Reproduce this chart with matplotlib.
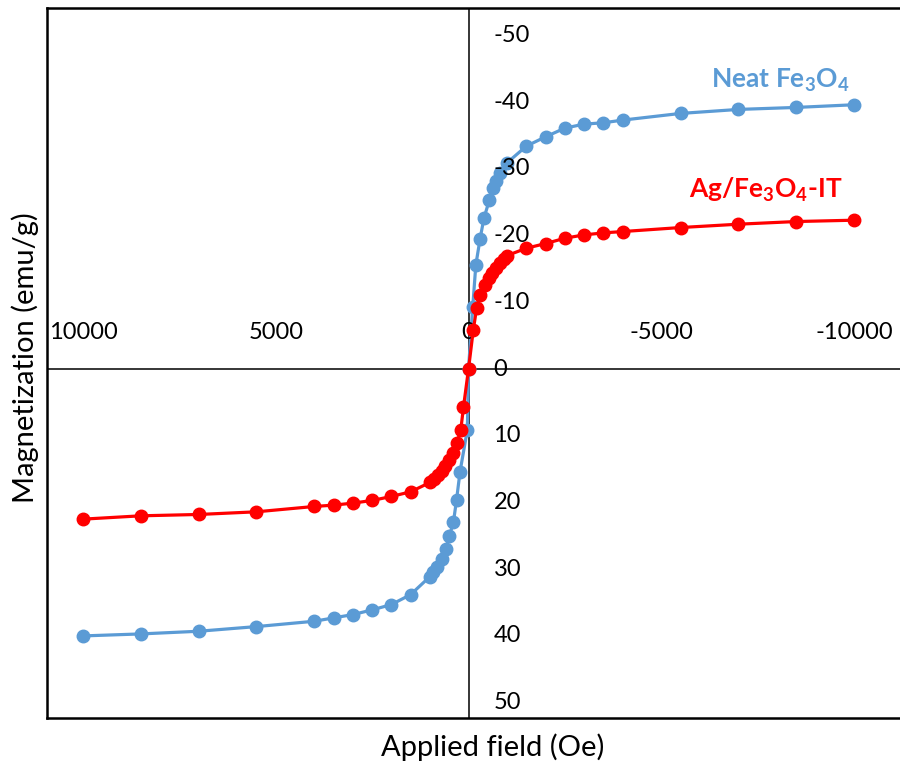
import matplotlib
matplotlib.use('Agg')
import matplotlib.pyplot as plt

plt.rcParams['font.family'] = ['Lato', 'DejaVu Sans']
plt.rcParams['mathtext.fontset'] = 'custom'
plt.rcParams['mathtext.rm'] = 'Lato'
plt.rcParams['mathtext.bf'] = 'Lato:bold'

# applied field (Oe) and magnetization (emu/g)
neat_field = [10000, 8500, 7000, 5500, 4000, 3500, 3000, 2500, 2000, 1500,
              1000, 910, 810, 700, 580, 500, 390, 310, 220, 30, 0,
              -110, -190, -300, -400, -540, -640, -710, -820, -1000,
              -1500, -2000, -2500, -3000, -3500, -4000, -5500, -7000, -8500, -10000]
neat_mag = [40.0, 39.7, 39.3, 38.6, 37.8, 37.3, 36.8, 36.1, 35.3, 33.8,
            31.1, 30.4, 29.6, 28.4, 26.9, 25.1, 22.9, 19.6, 15.4, 9.1, 0.0,
            -9.3, -15.6, -19.5, -22.6, -25.3, -27.1, -28.1, -29.3, -30.9,
            -33.4, -34.8, -36.1, -36.7, -36.9, -37.3, -38.3, -38.9, -39.2, -39.6]

ag_field = [10000, 8500, 7000, 5500, 4000, 3500, 3000, 2500, 2000, 1500,
            1000, 900, 800, 700, 600, 500, 400, 300, 200, 130, 0,
            -125, -210, -300, -430, -520, -620, -720, -820, -920, -1000,
            -1500, -2000, -2500, -3000, -3500, -4000, -5500, -7000, -8500, -10000]
ag_mag = [22.5, 22.0, 21.8, 21.4, 20.6, 20.4, 20.1, 19.7, 19.1, 18.4,
          17.0, 16.5, 15.9, 15.3, 14.5, 13.6, 12.6, 11.1, 9.1, 5.7, 0.0,
          -5.9, -9.1, -11.1, -12.6, -13.6, -14.4, -15.2, -15.9, -16.5, -17.0,
          -18.1, -18.8, -19.6, -20.1, -20.4, -20.6, -21.2, -21.7, -22.1, -22.3]

x_ticks = [10000, 5000, 0, -5000, -10000]
y_ticks = [-50, -40, -30, -20, -10, 0, 10, 20, 30, 40, 50]

blue = '#5B9BD5'
red = '#FF0000'

fig = plt.figure(figsize=(9, 7.68), dpi=100)
ax = fig.add_axes([47/900, 50/768, 853/900, 710/768])

ax.plot(neat_field, neat_mag, color=blue, lw=2.3, marker='o', ms=9, zorder=3)
ax.plot(ag_field, ag_mag, color=red, lw=2.3, marker='o', ms=9, zorder=4)

ax.set_xlim(10934, -11193)
ax.set_ylim(52.3, -54.1)

# crossing axes through the origin
ax.axhline(0, color='black', lw=1.1, zorder=2)
ax.axvline(0, color='black', lw=1.1, zorder=2)

ax.set_xticks([])
ax.set_yticks([])
for sp in ['left', 'top', 'bottom']:
    ax.spines[sp].set_linewidth(1.8)
ax.spines['right'].set_visible(False)

for v in x_ticks:
    ax.annotate(str(v), xy=(v, 0), xytext=(0, 26), textcoords='offset points',
                ha='center', va='center', fontsize=17)
for v in y_ticks:
    ax.annotate(str(v), xy=(0, v), xytext=(18, 0), textcoords='offset points',
                ha='left', va='center', fontsize=17)

ax.text(-8080, -43.3, r'Neat Fe$_\mathbf{3}$O$_\mathbf{4}$', color=blue,
        fontsize=19, fontweight='bold', ha='center', va='center')
ax.text(-7717, -26.8, r'Ag/Fe$_\mathbf{3}$O$_\mathbf{4}$-IT', color=red,
        fontsize=19, fontweight='bold', ha='center', va='center')

fig.text(493/900, 1 - 747/768, 'Applied field (Oe)', fontsize=21, ha='center', va='center')
fig.text(25/900, 1 - 358/768, 'Magnetization (emu/g)', fontsize=21, ha='center',
         va='center', rotation=90)

fig.savefig('out.png', dpi=100)
